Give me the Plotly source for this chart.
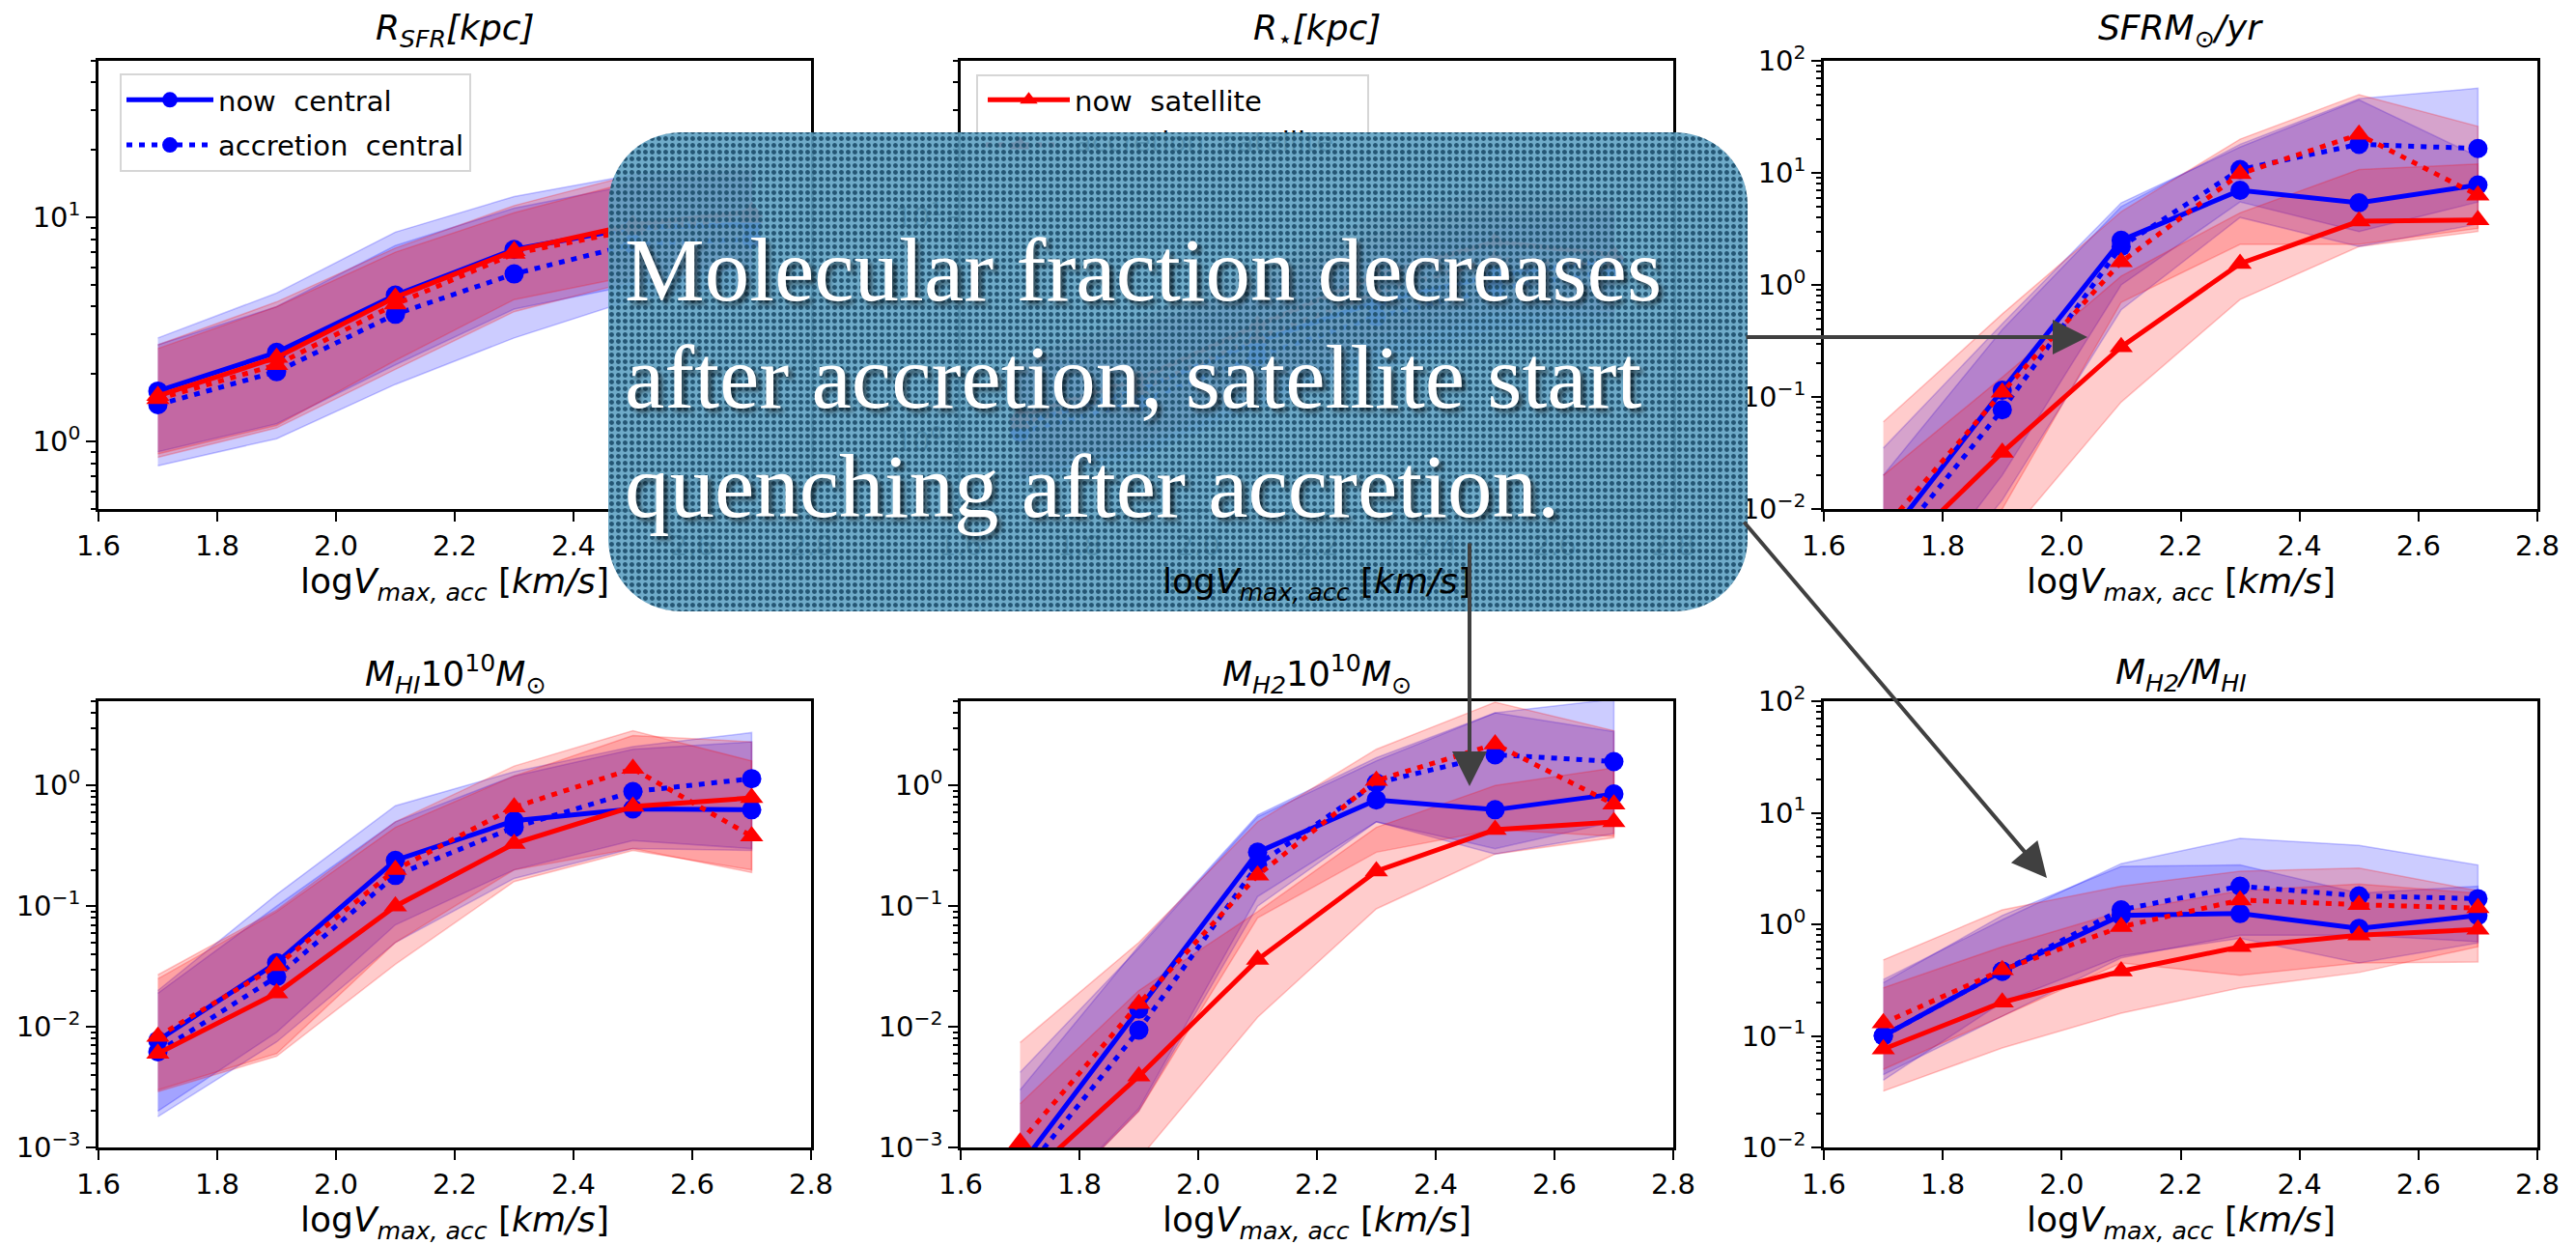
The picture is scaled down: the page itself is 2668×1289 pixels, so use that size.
import numpy as np
import plotly.graph_objects as go

W, H = 2668, 1289

# ---------------- data ----------------
x_vals = [1.7, 1.9, 2.1, 2.3, 2.5, 2.7]
x_ticks = [1.6, 1.8, 2.0, 2.2, 2.4, 2.6, 2.8]
x_ticktext = ["1.6", "1.8", "2.0", "2.2", "2.4", "2.6", "2.8"]

series_names = ["now\u00a0 central", "accretion\u00a0 central", "now\u00a0 satellite", "accretion\u00a0 satellite"]

# Panel 1: R_SFR [kpc]
p1_nc_med = [1.68, 2.5, 4.5, 7.2, 9.0, 9.3]
p1_nc_lo = [0.9, 1.2, 2.2, 3.9, 5.0, 6.0]
p1_nc_hi = [2.9, 4.6, 8.6, 12.4, 15.5, 16.0]
p1_ac_med = [1.46, 2.05, 3.7, 5.6, 7.6, 8.0]
p1_ac_lo = [0.78, 1.03, 1.8, 2.9, 4.3, 5.0]
p1_ac_hi = [2.7, 4.0, 7.5, 11.0, 14.0, 15.0]
p1_ns_med = [1.6, 2.37, 4.4, 7.1, 9.3, 10.6]
p1_ns_lo = [0.88, 1.18, 2.3, 4.3, 5.5, 6.5]
p1_ns_hi = [2.7, 4.2, 7.3, 11.3, 15.5, 17.0]
p1_as_med = [1.55, 2.2, 4.1, 6.9, 8.8, 10.0]
p1_as_lo = [0.85, 1.15, 2.1, 3.8, 5.2, 6.0]
p1_as_hi = [2.6, 4.0, 7.0, 10.5, 14.5, 16.0]

# Panel 2: R_star [kpc]
p2_nc_med = [1.2, 1.7, 2.8, 4.2, 5.5, 6.5]
p2_nc_lo = [0.7, 0.9, 1.5, 2.4, 3.2, 3.8]
p2_nc_hi = [2.2, 3.2, 5.0, 7.5, 10.0, 11.0]
p2_ac_med = [1.1, 1.5, 2.4, 3.6, 4.8, 5.8]
p2_ac_lo = [0.65, 0.85, 1.4, 2.1, 2.8, 3.4]
p2_ac_hi = [2.0, 2.8, 4.4, 6.5, 8.8, 10.0]
p2_ns_med = [1.3, 1.9, 3.3, 5.5, 7.8, 6.8]
p2_ns_lo = [0.75, 1.0, 1.8, 3.0, 4.4, 3.8]
p2_ns_hi = [2.4, 3.5, 6.0, 10.0, 13.5, 12.0]
p2_as_med = [1.2, 1.7, 2.9, 4.6, 6.5, 6.2]
p2_as_lo = [0.7, 0.95, 1.6, 2.6, 3.8, 3.6]
p2_as_hi = [2.2, 3.1, 5.2, 8.4, 11.5, 11.0]

# Panel 3: SFR [Msun/yr]
p3_nc_med = [0.005, 0.115, 2.5, 7.0, 5.4, 7.8]
p3_nc_lo = [0.0008, 0.02, 1.0, 5.5, 3.0, 5.5]
p3_nc_hi = [0.035, 0.45, 5.4, 17.0, 45.0, 14.0]
p3_ac_med = [0.0038, 0.077, 2.2, 10.7, 18.0, 16.5]
p3_ac_lo = [0.0006, 0.012, 0.6, 4.0, 2.2, 3.5]
p3_ac_hi = [0.02, 0.4, 5.0, 18.0, 46.0, 57.0]
p3_ns_med = [0.003, 0.032, 0.28, 1.55, 3.7, 3.8]
p3_ns_lo = [0.0003, 0.005, 0.09, 0.74, 2.2, 3.0]
p3_ns_hi = [0.02, 0.15, 1.2, 4.4, 10.7, 12.0]
p3_as_med = [0.0066, 0.11, 1.6, 9.8, 22.0, 6.3]
p3_as_lo = [0.0005, 0.01, 0.7, 2.3, 2.3, 3.2]
p3_as_hi = [0.06, 0.55, 4.5, 20.0, 50.0, 26.0]

# Panel 4: M_HI [1e10 Msun]
p4_nc_med = [0.0077, 0.034, 0.24, 0.51, 0.64, 0.63]
p4_nc_lo = [0.002, 0.009, 0.07, 0.2, 0.35, 0.3]
p4_nc_hi = [0.02, 0.125, 0.68, 1.3, 2.1, 2.75]
p4_ac_med = [0.0062, 0.026, 0.18, 0.45, 0.89, 1.14]
p4_ac_lo = [0.0018, 0.0075, 0.05, 0.17, 0.3, 0.29]
p4_ac_hi = [0.019, 0.1, 0.5, 1.2, 2.0, 2.3]
p4_ns_med = [0.006, 0.019, 0.10, 0.33, 0.67, 0.79]
p4_ns_lo = [0.0029, 0.0057, 0.033, 0.16, 0.29, 0.2]
p4_ns_hi = [0.027, 0.093, 0.5, 1.45, 2.85, 1.6]
p4_as_med = [0.0083, 0.032, 0.2, 0.66, 1.38, 0.38]
p4_as_lo = [0.003, 0.006, 0.05, 0.2, 0.3, 0.19]
p4_as_hi = [0.025, 0.09, 0.45, 1.2, 2.6, 2.3]

# Panel 5: M_H2 [1e10 Msun]
p5_nc_med = [0.0007, 0.014, 0.28, 0.76, 0.63, 0.85]
p5_nc_lo = [0.0002, 0.0021, 0.12, 0.5, 0.3, 0.5]
p5_nc_hi = [0.003, 0.047, 0.57, 1.7, 4.0, 2.8]
p5_ac_med = [0.00056, 0.0094, 0.22, 1.05, 1.8, 1.58]
p5_ac_lo = [0.0002, 0.002, 0.1, 0.5, 0.27, 0.4]
p5_ac_hi = [0.0042, 0.045, 0.55, 1.6, 4.0, 5.2]
p5_ns_med = [0.0005, 0.0039, 0.036, 0.195, 0.43, 0.5]
p5_ns_lo = [0.0001, 0.0008, 0.012, 0.095, 0.27, 0.37]
p5_ns_hi = [0.0023, 0.02, 0.09, 0.45, 1.0, 1.4]
p5_as_med = [0.0011, 0.0155, 0.18, 1.1, 2.2, 0.7]
p5_as_lo = [0.0002, 0.002, 0.08, 0.28, 0.43, 0.38]
p5_as_hi = [0.0074, 0.05, 0.5, 2.0, 4.9, 2.85]

# Panel 6: M_H2 / M_HI
p6_nc_med = [0.1, 0.38, 1.2, 1.25, 0.92, 1.2]
p6_nc_lo = [0.04, 0.2, 0.52, 0.75, 0.45, 0.68]
p6_nc_hi = [0.3, 1.2, 3.3, 3.4, 1.9, 2.2]
p6_ac_med = [0.1, 0.38, 1.35, 2.2, 1.8, 1.7]
p6_ac_lo = [0.045, 0.15, 0.5, 0.8, 0.8, 0.7]
p6_ac_hi = [0.32, 1.1, 3.5, 5.9, 5.1, 3.4]
p6_ns_med = [0.076, 0.2, 0.38, 0.63, 0.8, 0.9]
p6_ns_lo = [0.032, 0.078, 0.16, 0.27, 0.37, 0.63]
p6_ns_hi = [0.27, 0.63, 1.3, 2.0, 2.3, 1.9]
p6_as_med = [0.13, 0.39, 0.95, 1.65, 1.5, 1.4]
p6_as_lo = [0.05, 0.15, 0.45, 0.35, 0.45, 0.46]
p6_as_hi = [0.48, 1.35, 2.2, 3.0, 3.2, 2.0]

panel_titles = [
    "<i>R<sub>SFR</sub>[kpc]</i>",
    "<i>R<sub>⋆</sub>[kpc]</i>",
    "<i>SFRM<sub>⊙</sub>/yr</i>",
    "<i>M<sub>HI</sub></i>10<sup>10</sup><i>M</i><sub>⊙</sub>",
    "<i>M<sub>H2</sub></i>10<sup>10</sup><i>M</i><sub>⊙</sub>",
    "<i>M<sub>H2</sub>/M<sub>HI</sub></i>",
]
x_label = "log<i>V<sub>max, acc</sub></i> [<i>km/s</i>]"

y_ranges_log = [
    [np.log10(0.5), np.log10(50)],
    [np.log10(0.5), np.log10(50)],
    [-2, 2],
    [-3, np.log10(5)],
    [-3, np.log10(5)],
    [-2, 2],
]
y_tickvals = [
    [1, 10],
    [1, 10],
    [0.01, 0.1, 1, 10, 100],
    [0.001, 0.01, 0.1, 1],
    [0.001, 0.01, 0.1, 1],
    [0.01, 0.1, 1, 10, 100],
]
y_ticktext = [
    ["10<sup>0</sup>", "10<sup>1</sup>"],
    ["10<sup>0</sup>", "10<sup>1</sup>"],
    ["10<sup>−2</sup>", "10<sup>−1</sup>", "10<sup>0</sup>", "10<sup>1</sup>", "10<sup>2</sup>"],
    ["10<sup>−3</sup>", "10<sup>−2</sup>", "10<sup>−1</sup>", "10<sup>0</sup>"],
    ["10<sup>−3</sup>", "10<sup>−2</sup>", "10<sup>−1</sup>", "10<sup>0</sup>"],
    ["10<sup>−2</sup>", "10<sup>−1</sup>", "10<sup>0</sup>", "10<sup>1</sup>", "10<sup>2</sup>"],
]

panels = [
    [(p1_nc_med, p1_nc_lo, p1_nc_hi), (p1_ac_med, p1_ac_lo, p1_ac_hi), (p1_ns_med, p1_ns_lo, p1_ns_hi), (p1_as_med, p1_as_lo, p1_as_hi)],
    [(p2_nc_med, p2_nc_lo, p2_nc_hi), (p2_ac_med, p2_ac_lo, p2_ac_hi), (p2_ns_med, p2_ns_lo, p2_ns_hi), (p2_as_med, p2_as_lo, p2_as_hi)],
    [(p3_nc_med, p3_nc_lo, p3_nc_hi), (p3_ac_med, p3_ac_lo, p3_ac_hi), (p3_ns_med, p3_ns_lo, p3_ns_hi), (p3_as_med, p3_as_lo, p3_as_hi)],
    [(p4_nc_med, p4_nc_lo, p4_nc_hi), (p4_ac_med, p4_ac_lo, p4_ac_hi), (p4_ns_med, p4_ns_lo, p4_ns_hi), (p4_as_med, p4_as_lo, p4_as_hi)],
    [(p5_nc_med, p5_nc_lo, p5_nc_hi), (p5_ac_med, p5_ac_lo, p5_ac_hi), (p5_ns_med, p5_ns_lo, p5_ns_hi), (p5_as_med, p5_as_lo, p5_as_hi)],
    [(p6_nc_med, p6_nc_lo, p6_nc_hi), (p6_ac_med, p6_ac_lo, p6_ac_hi), (p6_ns_med, p6_ns_lo, p6_ns_hi), (p6_as_med, p6_as_lo, p6_as_hi)],
]

# ---------------- layout geometry (pixels) ----------------
col_px = [(102, 840), (995, 1733), (1889, 2628)]
row_px = [(63, 527), (726, 1188)]

FONT = "DejaVu Sans"
BLUE = "#0000ff"
RED = "#ff0000"
BAND = ["rgba(0,0,255,0.2)", "rgba(0,0,255,0.2)", "rgba(255,0,0,0.2)", "rgba(255,0,0,0.2)"]
BAND_EDGE = ["rgba(0,0,255,0.22)", "rgba(0,0,255,0.22)", "rgba(255,0,0,0.22)", "rgba(255,0,0,0.22)"]
LCOL = [BLUE, BLUE, RED, RED]
DASH = ["solid", "6px,7px", "solid", "6px,7px"]
SYM = ["circle", "circle", "triangle-up", "triangle-up"]
MSIZE = [20, 20, 21, 21]

fig = go.Figure()

for p in range(6):
    xa = "x" if p == 0 else f"x{p+1}"
    ya = "y" if p == 0 else f"y{p+1}"
    for s in range(4):
        med, lo, hi = panels[p][s]
        fig.add_trace(go.Scatter(
            x=x_vals + x_vals[::-1], y=list(hi) + list(lo)[::-1],
            fill="toself", fillcolor=BAND[s], mode="lines",
            line=dict(width=1.5, color=BAND_EDGE[s]),
            xaxis=xa, yaxis=ya, showlegend=False, hoverinfo="skip"))
    for s in range(4):
        med, lo, hi = panels[p][s]
        show = (p == 0 and s in (0, 1)) or (p == 1 and s == 2)
        fig.add_trace(go.Scatter(
            x=x_vals, y=med, mode="lines+markers", name=series_names[s],
            line=dict(color=LCOL[s], width=5, dash=DASH[s]),
            marker=dict(symbol=SYM[s], size=MSIZE[s], color=LCOL[s], line=dict(width=0)),
            xaxis=xa, yaxis=ya, showlegend=show, legendgroup=f"g{p}{s}",
            legend=("legend" if p == 0 else "legend2")))

layout = dict(
    template="none",
    width=W, height=H, autosize=False,
    margin=dict(l=0, r=0, t=0, b=0, pad=0, autoexpand=False),
    paper_bgcolor="white", plot_bgcolor="rgba(0,0,0,0)",
    font=dict(family=FONT, size=29, color="black"),
    showlegend=True,
)

annotations = []
for p in range(6):
    r, c = divmod(p, 3)
    x0, x1 = col_px[c]
    y0, y1 = row_px[r]
    sfx = "" if p == 0 else str(p + 1)
    layout["xaxis" + sfx] = dict(
        domain=[x0 / W, x1 / W], range=[1.6, 2.8], anchor="y" + sfx, automargin=False,
        tickmode="array", tickvals=x_ticks, ticktext=x_ticktext,
        ticks="outside", ticklen=10, tickwidth=2, tickcolor="black",
        showline=True, mirror=True, linewidth=2.5, linecolor="black",
        showgrid=False, zeroline=False, tickfont=dict(size=29, family=FONT))
    layout["yaxis" + sfx] = dict(
        domain=[1 - y1 / H, 1 - y0 / H], type="log", range=y_ranges_log[p], anchor="x" + sfx,
        automargin=False,
        tickmode="array", tickvals=y_tickvals[p], ticktext=y_ticktext[p],
        ticks="outside", ticklen=10, tickwidth=2, tickcolor="black",
        minor=dict(ticks="outside", ticklen=5, tickwidth=1.5, tickcolor="black", dtick="D1", showgrid=False),
        showline=True, mirror=True, linewidth=2.5, linecolor="black",
        showgrid=False, zeroline=False, tickfont=dict(size=29, family=FONT))
    xc = (x0 + x1) / 2 / W
    annotations.append(dict(text=panel_titles[p], x=xc, y=1 - (31 if r == 0 else 698) / H,
                            xref="paper", yref="paper", showarrow=False,
                            font=dict(size=36, family=FONT), xanchor="center", yanchor="middle"))
    annotations.append(dict(text=x_label, x=xc, y=1 - (604 if r == 0 else 1265) / H,
                            xref="paper", yref="paper", showarrow=False,
                            font=dict(size=36, family=FONT), xanchor="center", yanchor="middle"))

# overlay axes spanning the whole figure, in pixel units (for the callout box)
layout["xaxis7"] = dict(domain=[0, 1], range=[0, W], visible=False, showgrid=False, zeroline=False,
                        anchor="y7", automargin=False)
layout["yaxis7"] = dict(domain=[0, 1], range=[H, 0], visible=False, showgrid=False, zeroline=False,
                        anchor="x7", automargin=False)

# faint second legend entry of panel 2 (hidden beneath the callout box)
fig.add_trace(go.Scatter(x=[1021, 1092], y=[150, 150], mode="lines",
                         line=dict(color=RED, width=5, dash="6px,7px"),
                         xaxis="x7", yaxis="y7", showlegend=False, hoverinfo="skip"))
fig.add_trace(go.Scatter(x=[1056], y=[150], mode="markers",
                         marker=dict(symbol="triangle-up", size=18, color=RED),
                         xaxis="x7", yaxis="y7", showlegend=False, hoverinfo="skip"))
fig.add_trace(go.Scatter(x=[1113], y=[150], mode="text", text=["accretion\u00a0 satellite"],
                         textposition="middle right", textfont=dict(size=29, family=FONT, color="black"),
                         xaxis="x7", yaxis="y7", showlegend=False, hoverinfo="skip"))

# callout box: rounded rectangle
bx0, by0, bx1, by1, rad = 630, 137, 1810, 633, 75
def arc(cx, cy, a0, a1, n=16):
    t = np.linspace(a0, a1, n)
    return list(cx + rad * np.cos(t)), list(cy + rad * np.sin(t))
px, py = [], []
for (cx, cy, a0, a1) in [(bx1 - rad, by0 + rad, -np.pi / 2, 0),
                         (bx1 - rad, by1 - rad, 0, np.pi / 2),
                         (bx0 + rad, by1 - rad, np.pi / 2, np.pi),
                         (bx0 + rad, by0 + rad, np.pi, 1.5 * np.pi)]:
    ax_, ay_ = arc(cx, cy, a0, a1)
    px += ax_; py += ay_
px.append(px[0]); py.append(py[0])
fig.add_trace(go.Scatter(x=px, y=py, mode="lines", fill="toself",
                         fillcolor="rgba(88,152,184,0.9)",
                         fillpattern=dict(shape=".", bgcolor="rgba(96,162,195,0.9)",
                                          fgcolor="rgba(36,86,116,1)", size=7, solidity=0.4),
                         line=dict(width=0, color="rgba(0,0,0,0)"),
                         xaxis="x7", yaxis="y7", showlegend=False, hoverinfo="skip"))

# legend border for panel 2 legend
shapes = [dict(type="rect", xref="paper", yref="paper", layer="below",
               x0=1012 / W, x1=1417 / W, y0=1 - 179 / H, y1=1 - 78 / H,
               line=dict(color="#d6d6d6", width=2), fillcolor="white")]
layout["shapes"] = shapes

# callout text
text_lines = ["Molecular fraction decreases", "after accretion, satellite start", "quenching after accretion."]
text_y = [279, 391, 503]
for t, yy in zip(text_lines, text_y):
    annotations.append(dict(text=t, x=645 / W, y=1 - yy / H, xref="paper", yref="paper",
                            showarrow=False, xanchor="left", yanchor="middle",
                            font=dict(family="Liberation Serif", size=93, color="white",
                                      shadow="4px 4px 5px rgba(0,0,0,0.6)")))

# arrows (tip, tail in pixels)
arrows = [((2162, 349), (1807, 349)), ((1522, 814), (1522, 561)), ((2120, 909), (1805, 539))]
for (tx, ty), (sx, sy) in arrows:
    annotations.append(dict(text="", x=tx / W, y=1 - ty / H, xref="paper", yref="paper",
                            showarrow=True, ax=sx - tx, ay=sy - ty, axref="pixel", ayref="pixel",
                            arrowhead=2, arrowsize=1.8, arrowwidth=4, arrowcolor="#404040", standoff=0))

layout["annotations"] = annotations
layout["legend"] = dict(x=124 / W, y=1 - 76 / H, xanchor="left", yanchor="top",
                        bgcolor="rgba(255,255,255,0.85)", bordercolor="#d6d6d6", borderwidth=2,
                        font=dict(size=29, family=FONT), itemwidth=90, tracegroupgap=6)
layout["legend2"] = dict(x=1018 / W, y=1 - 78 / H, xanchor="left", yanchor="top",
                         bgcolor="rgba(0,0,0,0)", borderwidth=0,
                         font=dict(size=29, family=FONT), itemwidth=85)

fig.update_layout(**layout)
fig.write_html("out.html", config={"responsive": False, "displayModeBar": False},
               post_script="document.body.style.margin='0';document.body.style.overflow='hidden';")
